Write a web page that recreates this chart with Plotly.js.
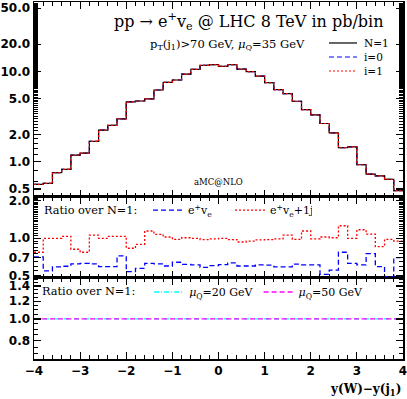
<!DOCTYPE html>
<html>
<head>
<meta charset="utf-8">
<script src="https://cdn.plot.ly/plotly-3.0.1.min.js"></script>
<style>
  html, body { margin: 0; padding: 0; background: #fff; }
  #chart { width: 407px; height: 399px; }
</style>
</head>
<body>
<div id="chart"></div>
<script>
// bin edges of y(W)-y(j1), 40 bins of 0.2
var edges = [-4.0, -3.8, -3.6, -3.4, -3.2, -3.0, -2.8, -2.6, -2.4, -2.2,
             -2.0, -1.8, -1.6, -1.4, -1.2, -1.0, -0.8, -0.6, -0.4, -0.2,
              0.0,  0.2,  0.4,  0.6,  0.8,  1.0,  1.2,  1.4,  1.6,  1.8,
              2.0,  2.2,  2.4,  2.6,  2.8,  3.0,  3.2,  3.4,  3.6,  3.8, 4.0];

// cross section per bin (pb/bin), N=1
var sigmaN1 = [0.563, 0.578, 0.757, 0.825, 1.185, 1.247, 1.679, 2.236, 2.52, 2.98,
               4.59, 4.70, 4.95, 6.22, 7.56, 8.02, 9.33, 10.52, 11.65, 11.86,
               11.36, 11.86, 10.6, 9.92, 8.87, 7.51, 6.28, 5.68, 4.67, 3.78,
               3.30, 2.65, 2.09, 1.43, 1.46, 0.927, 0.732, 0.70, 0.64, 0.48];
// i=0 and i=1 lie on top of N=1
var sigmaI0 = sigmaN1;
var sigmaI1 = sigmaN1;

// ratio over N=1
var ratioEv = [0.709, 0.548, 0.59, 0.597, 0.623, 0.63, 0.623, 0.593, 0.593, 0.722,
               0.541, 0.575, 0.63, 0.623, 0.60, 0.643, 0.619, 0.612, 0.586, 0.604,
               0.615, 0.635, 0.60, 0.60, 0.612, 0.61, 0.59, 0.59, 0.62, 0.612,
               0.612, 0.515, 0.557, 0.773, 0.63, 0.612, 0.753, 0.593, 0.493, 0.70];
var ratioEv1j = [0.773, 1.0, 1.0, 1.037, 0.817, 0.773, 1.06, 1.0, 1.037, 1.037,
                 0.832, 0.895, 1.144, 1.076, 1.024, 0.98, 1.01, 1.0, 0.975, 0.99,
                 1.0, 0.975, 0.934, 0.95, 0.97, 0.975, 0.99, 1.06, 0.98, 1.144,
                 0.99, 1.024, 1.01, 1.26, 1.0, 1.17, 1.08, 0.857, 0.98, 0.95];

// scale variations over N=1
var ratioMu20 = [1, 1, 1, 1, 1, 1, 1, 1, 1, 1, 1, 1, 1, 1, 1, 1, 1, 1, 1, 1,
                 1, 1, 1, 1, 1, 1, 1, 1, 1, 1, 1, 1, 1, 1, 1, 1, 1, 1, 1, 1];
var ratioMu50 = [1, 1, 1, 1, 1, 1, 1, 1, 1, 1, 1, 1, 1, 1, 1, 1, 1, 1, 1, 1,
                 1, 1, 1, 1, 1, 1, 1, 1, 1, 1, 1, 1, 1, 1, 1, 1, 1, 1, 1, 1];

var xTicks = [-4, -3, -2, -1, 0, 1, 2, 3, 4];
var xTickText = ['\u22124', '\u22123', '\u22122', '\u22121', '0', '1', '2', '3', '4'];
var topTicks = [0.5, 1, 2, 5, 10, 20, 50];
var topTickText = ['0.5', '1.0', '2.0', '5.0', '10.0', '20.0', '50.0'];
var midTicks = [0.5, 0.7, 1, 2];
var midTickText = ['0.5', '0.7', '1.0', '2.0'];
var botTicks = [0.8, 1.0, 1.2, 1.4];
var botTickText = ['0.8', '1.0', '1.2', '1.4'];

// histogram as steps: repeat last value at the right edge
function steps(v) { return v.concat([v[v.length - 1]]); }

var serif = 'DejaVu Serif';
var tickFont = {family: 'DejaVu Sans', size: 12, color: '#000', weight: 'bold'};

var styleN1 = {shape: 'hv', color: '#000000', width: 1.2};
var styleI0 = {shape: 'hv', color: '#0000ff', width: 1.2, dash: '5px,3px'};
var styleI1 = {shape: 'hv', color: '#ff0000', width: 1.2, dash: '2px,2px'};

var traces = [
  {x: edges, y: steps(sigmaI0), xaxis: 'x3', yaxis: 'y3', mode: 'lines', name: 'i=0',
   line: styleI0, showlegend: false},
  {x: edges, y: steps(sigmaN1), xaxis: 'x3', yaxis: 'y3', mode: 'lines', name: 'N=1',
   line: styleN1, showlegend: false},
  {x: edges, y: steps(sigmaI1), xaxis: 'x3', yaxis: 'y3', mode: 'lines', name: 'i=1',
   line: styleI1, showlegend: false},

  {x: edges, y: steps(ratioEv), xaxis: 'x2', yaxis: 'y2', mode: 'lines',
   name: 'e<sup>+</sup>v<sub>e</sub>',
   line: {shape: 'hv', color: '#0000ff', width: 1.3, dash: '5px,3px'}, legend: 'legend2'},
  {x: edges, y: steps(ratioEv1j), xaxis: 'x2', yaxis: 'y2', mode: 'lines',
   name: 'e<sup>+</sup>v<sub>e</sub>+1j',
   line: {shape: 'hv', color: '#ff0000', width: 1.3, dash: '2px,2px'}, legend: 'legend2'},

  {x: edges, y: steps(ratioMu20), xaxis: 'x', yaxis: 'y', mode: 'lines',
   name: '<i>\u03bc</i><sub>Q</sub>=20 GeV',
   line: {shape: 'hv', color: '#00ffff', width: 1.3, dash: '5px,2px,1px,2px'}, legend: 'legend3'},
  {x: edges, y: steps(ratioMu50), xaxis: 'x', yaxis: 'y', mode: 'lines',
   name: '<i>\u03bc</i><sub>Q</sub>=50 GeV',
   line: {shape: 'hv', color: '#ff00ff', width: 1.3, dash: '5px,3px'}, legend: 'legend3'}
];

function xAxis(anchor, labels) {
  return {
    anchor: anchor, range: [-4.0001, 4.0001], showgrid: false, zeroline: false,
    showline: true, linecolor: '#000', linewidth: 1.5, mirror: 'allticks',
    ticks: 'inside', ticklen: 7, tickwidth: 1.2, tickcolor: '#000',
    tickmode: 'array', tickvals: xTicks, ticktext: xTickText,
    showticklabels: labels, tickfont: tickFont, ticklabeloverflow: 'allow',
    minor: {ticks: 'inside', ticklen: 4, tickwidth: 1, tickcolor: '#000', dtick: 0.2, tick0: -4, showgrid: false}
  };
}
function yAxis(domain, range, vals, text) {
  return {
    domain: domain, type: 'log', range: range, showgrid: false, zeroline: false,
    showline: true, linecolor: '#000', linewidth: 1.5, mirror: 'allticks',
    ticks: 'inside', ticklen: 7, tickwidth: 1.2, tickcolor: '#000',
    tickmode: 'array', tickvals: vals, ticktext: text, tickfont: tickFont,
    ticklabeloverflow: 'allow',
    minor: {ticks: 'inside', ticklen: 4, tickwidth: 1, tickcolor: '#000', showgrid: false}
  };
}

// top legend drawn by hand: 14 px rows like the reference
var topLegend = [
  {label: 'N=1', line: styleN1, y: 0.8852},
  {label: 'i=0', line: styleI0, y: 0.8459},
  {label: 'i=1', line: styleI1, y: 0.8067}
];
var shapes = [];
var annotations = [];
topLegend.forEach(function (item) {
  shapes.push({type: 'line', xref: 'paper', yref: 'paper', x0: 0.7995, x1: 0.8753,
               y0: item.y, y1: item.y,
               line: {color: item.line.color, width: item.line.width, dash: item.line.dash || 'solid'}});
  annotations.push({xref: 'paper', yref: 'paper', x: 0.8889, y: item.y, xanchor: 'left',
                    yanchor: 'middle', showarrow: false, font: {family: serif, size: 10.5},
                    text: item.label});
});

annotations.push(
  {xref: 'paper', yref: 'paper', x: 0.954, y: 0.944, xanchor: 'right', yanchor: 'middle',
   showarrow: false, font: {family: serif, size: 16},
   text: 'pp \u2192 e<sup>+</sup>v<sub>e</sub> @ LHC 8 TeV in pb/bin'},
  {xref: 'paper', yref: 'paper', x: 0.309, y: 0.882, xanchor: 'left', yanchor: 'middle',
   showarrow: false, font: {family: serif, size: 11.5},
   text: 'p<sub>T</sub>(j<sub>1</sub>)>70 GeV, <i>\u03bc</i><sub>Q</sub>=35 GeV'},
  {xref: 'paper', yref: 'paper', x: 0.499, y: 0.496, xanchor: 'center', yanchor: 'middle',
   showarrow: false, font: {family: serif, size: 8.5}, text: 'aMC@NLO'},
  {xref: 'paper', yref: 'paper', x: 0.0217, y: 0.417, xanchor: 'left', yanchor: 'middle',
   showarrow: false, font: {family: serif, size: 11.3}, text: 'Ratio over N=1:'},
  {xref: 'paper', yref: 'paper', x: 0.0163, y: 0.1877, xanchor: 'left', yanchor: 'middle',
   showarrow: false, font: {family: serif, size: 11.3}, text: 'Ratio over N=1:'},
  {xref: 'paper', yref: 'paper', x: 1, y: -0.087, xanchor: 'right', yanchor: 'middle',
   showarrow: false, font: {family: serif, size: 12, weight: 'bold'},
   text: 'y(W)\u2212y(j<sub>1</sub>)'}
);

var layout = {
  width: 407, height: 399,
  margin: {l: 34, r: 4, t: 2, b: 40},
  paper_bgcolor: '#fff', plot_bgcolor: '#fff',
  font: {family: serif, size: 11, color: '#000'},
  xaxis: xAxis('y', true),
  xaxis2: xAxis('y2', false),
  xaxis3: xAxis('y3', false),
  yaxis: yAxis([0, 0.2269], [Math.log10(0.664), Math.log10(1.52)], botTicks, botTickText),
  yaxis2: yAxis([0.2269, 0.4538], [Math.log10(0.481), Math.log10(2.14)], midTicks, midTickText),
  yaxis3: yAxis([0.4538, 1], [Math.log10(0.408), Math.log10(58.4)], topTicks, topTickText),
  showlegend: true,
  legend2: {x: 0.309, y: 0.417, xanchor: 'left', yanchor: 'middle', orientation: 'h',
            entrywidth: 37, entrywidthmode: 'pixels',
            bgcolor: 'rgba(0,0,0,0)', font: {family: serif, size: 11}},
  legend3: {x: 0.312, y: 0.1877, xanchor: 'left', yanchor: 'middle', orientation: 'h',
            bgcolor: 'rgba(0,0,0,0)', font: {family: serif, size: 11}},
  shapes: shapes,
  annotations: annotations
};

Plotly.newPlot('chart', traces, layout, {staticPlot: true});
</script>
</body>
</html>
